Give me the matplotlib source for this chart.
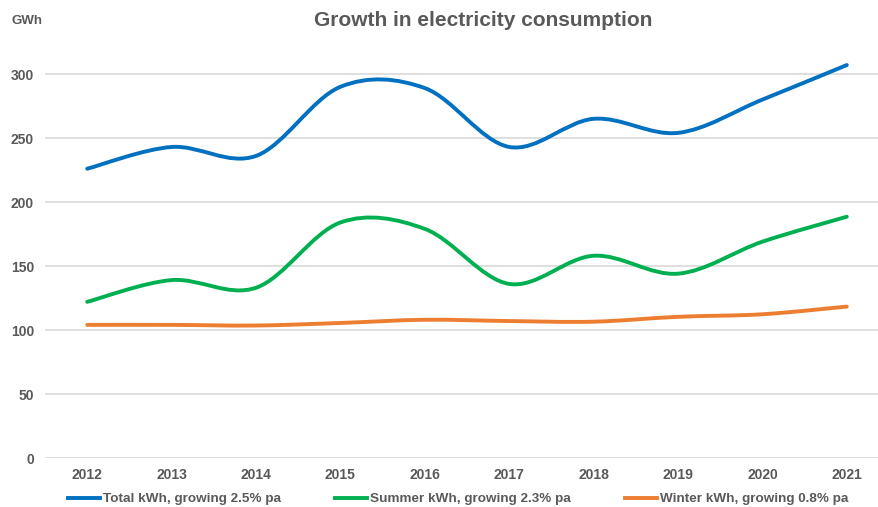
import numpy as np
import matplotlib
matplotlib.use("Agg")
import matplotlib.pyplot as plt
from matplotlib.path import Path
from matplotlib.patches import PathPatch
from matplotlib.lines import Line2D

plt.rcParams['font.family'] = ['Liberation Sans', 'DejaVu Sans']

years = ["2012", "2013", "2014", "2015", "2016", "2017", "2018", "2019", "2020", "2021"]
total = [226, 243, 236, 290, 289, 243, 265, 254, 280, 307]
summer = [122, 139, 133, 184, 179, 136, 158, 144, 169, 188.5]
winter = [104, 104, 103.5, 105.5, 108, 107, 106.5, 110.3, 112.3, 118.3]

labels = ["Total kWh, growing 2.5% pa", "Summer kWh, growing 2.3% pa", "Winter kWh, growing 0.8% pa"]
colors = ["#0070C0", "#00B050", "#ED7D31"]
grey = "#595959"


def smooth_path(xs, ys):
    # Excel-like smoothed line: Bezier segments with Catmull-Rom tangents
    p = np.column_stack([xs, ys]).astype(float)
    n = len(p)
    verts = [p[0]]
    codes = [Path.MOVETO]
    for i in range(n - 1):
        p0 = p[i - 1] if i > 0 else p[i]
        p3 = p[i + 2] if i + 2 < n else p[i + 1]
        c1 = p[i] + (p[i + 1] - p0) / 6
        c2 = p[i + 1] - (p3 - p[i]) / 6
        verts += [c1, c2, p[i + 1]]
        codes += [Path.CURVE4] * 3
    return Path(verts, codes)


fig = plt.figure(figsize=(8.79, 5.07), dpi=100)
ax = fig.add_axes([45 / 879, 49 / 507, 844 / 879, 448 / 507])

x = np.arange(len(years))
for ys, c in zip([total, summer, winter], colors):
    patch = PathPatch(smooth_path(x, ys), facecolor="none", edgecolor=c,
                      lw=2.8, capstyle="round", joinstyle="round", zorder=3)
    ax.add_patch(patch)

ax.set_xlim(-0.5, len(years) - 0.5)
ax.set_ylim(0, 350)
ax.set_yticks(range(0, 301, 50))
ax.set_xticks(x)
ax.set_xticklabels(years)
ax.grid(axis="y", color="#D9D9D9", lw=1.2)
ax.set_axisbelow(True)
for s in ax.spines.values():
    s.set_visible(False)
ax.tick_params(length=0, labelsize=10, labelcolor=grey, pad=8)
ax.tick_params(axis="x", pad=7)
for t in ax.get_xticklabels() + ax.get_yticklabels():
    t.set_fontweight("bold")

fig.text(483 / 879, 1 - 21 / 507, "Growth in electricity consumption", ha="center", va="center",
         fontsize=15, fontweight="bold", color=grey)
fig.text(12 / 879, 1 - 21 / 507, "GWh", ha="left", va="center",
         fontsize=9.5, fontweight="bold", color=grey)

handles = [Line2D([], [], color=c, lw=2.8) for c in colors]
leg = fig.legend(handles, labels, loc="center left", bbox_to_anchor=(68 / 879, 1 - 499 / 507),
                 ncol=3, frameon=False, fontsize=9.7, handlelength=2.4, handletextpad=0.2,
                 columnspacing=4.0, borderaxespad=0, borderpad=0)
for t in leg.get_texts():
    t.set_color(grey)
    t.set_fontweight("bold")

fig.savefig("out.png", dpi=100)
